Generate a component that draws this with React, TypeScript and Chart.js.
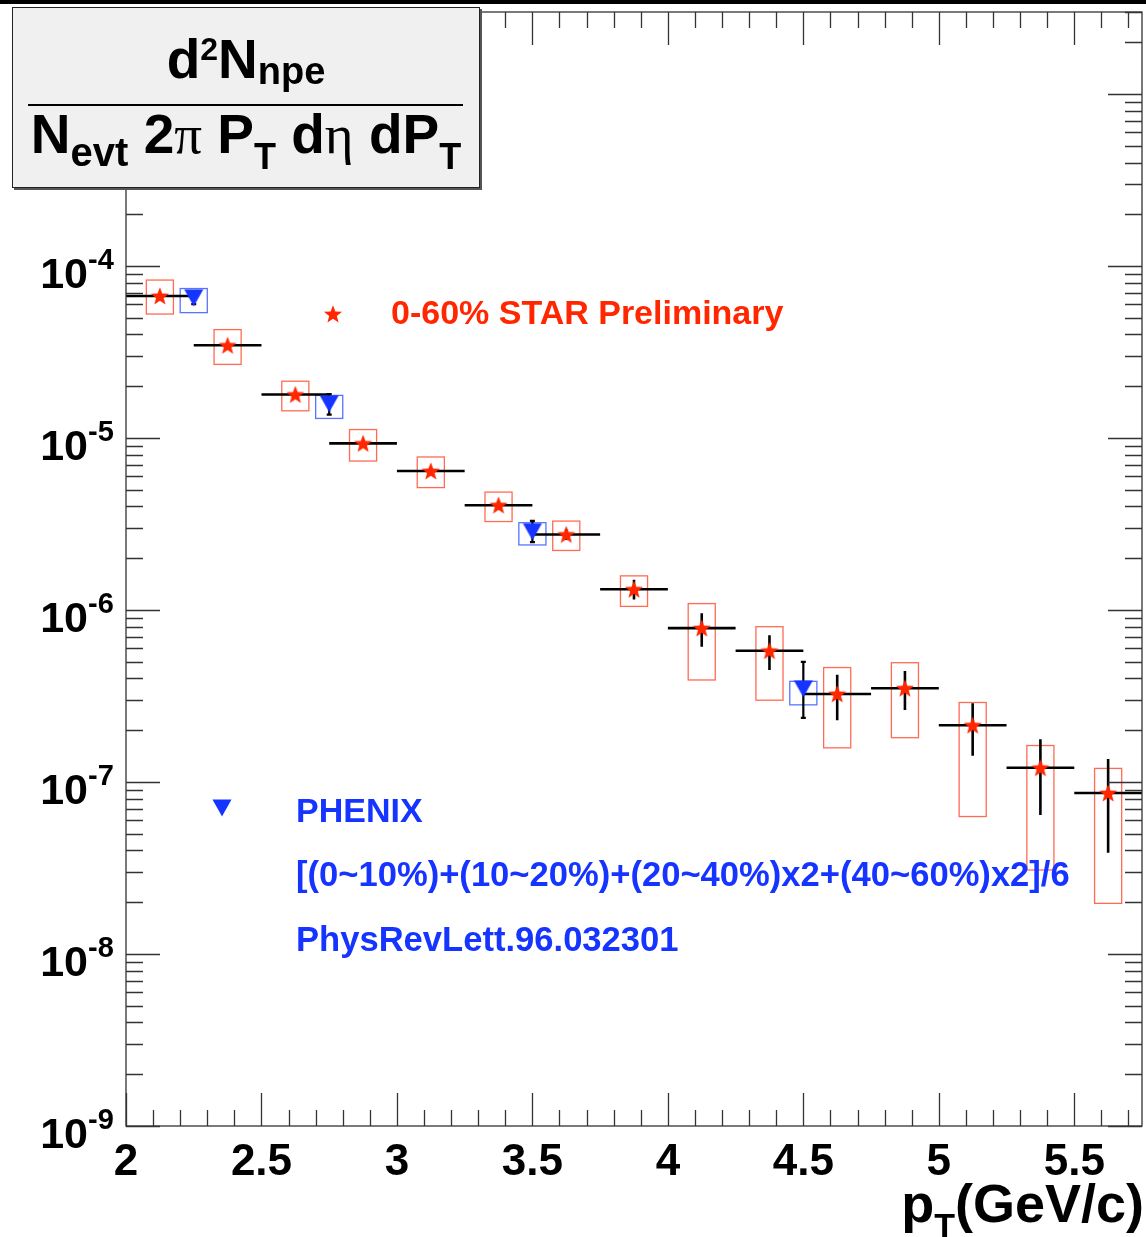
import { useEffect, useRef } from "react";
import { Chart, registerables } from "chart.js";

Chart.register(...registerables);

// ---- data ---------------------------------------------------------------
// STAR non-photonic electron spectrum, 0-60% centrality (bin centers, GeV/c)
const ptBinCenters = [2.125, 2.375, 2.625, 2.875, 3.125, 3.375, 3.625, 3.875, 4.125, 4.375, 4.625, 4.875, 5.125, 5.375, 5.625];
const ptBinHalfWidth = 0.125;
const starYield = [6.7e-5, 3.46e-5, 1.79e-5, 9.31e-6, 6.43e-6, 4.07e-6, 2.75e-6, 1.32e-6, 7.85e-7, 5.8e-7, 3.25e-7, 3.51e-7, 2.14e-7, 1.21e-7, 8.63e-8];
const starStatHigh = [6.9e-5, 3.57e-5, 1.85e-5, 9.7e-6, 6.75e-6, 4.3e-6, 2.95e-6, 1.5e-6, 9.57e-7, 7.13e-7, 4.21e-7, 4.42e-7, 2.87e-7, 1.77e-7, 1.36e-7];
const starStatLow = [6.5e-5, 3.35e-5, 1.73e-5, 8.9e-6, 6.1e-6, 3.85e-6, 2.55e-6, 1.15e-6, 6.12e-7, 4.48e-7, 2.29e-7, 2.62e-7, 1.42e-7, 6.43e-8, 3.88e-8];
const starSysHigh = [8.29e-5, 4.27e-5, 2.14e-5, 1.12e-5, 7.76e-6, 4.85e-6, 3.29e-6, 1.58e-6, 1.09e-6, 8.0e-7, 4.63e-7, 4.94e-7, 2.9e-7, 1.63e-7, 1.2e-7];
const starSysLow = [5.26e-5, 2.68e-5, 1.44e-5, 7.35e-6, 5.15e-6, 3.27e-6, 2.22e-6, 1.05e-6, 3.92e-7, 2.99e-7, 1.58e-7, 1.81e-7, 6.3e-8, 3.08e-8, 1.97e-8];

// PHENIX, centrality-weighted average
const phenixPt = [2.25, 2.75, 3.5, 4.5];
const phenixYield = [6.53e-5, 1.58e-5, 2.85e-6, 3.48e-7];
const phenixStatHigh = [7.1e-5, 1.8e-5, 3.3e-6, 4.99e-7];
const phenixStatLow = [6.0e-5, 1.37e-5, 2.48e-6, 2.36e-7];
const phenixSysHigh = [7.4e-5, 1.77e-5, 3.22e-6, 3.85e-7];
const phenixSysLow = [5.36e-5, 1.3e-5, 2.39e-6, 2.81e-7];

const sysHalfWidth = 0.05;

// axis ticks
const xTickLabels = ["2", "2.5", "3", "3.5", "4", "4.5", "5", "5.5"];
const yDecadeExponents = [-9, -8, -7, -6, -5, -4];
const xRange = [2, 5.75];
const yRange = [1e-9, 3e-3];

// ---- styling --------------------------------------------------------------
const FONT = "'Liberation Sans', Arial, Helvetica, sans-serif";
const SERIF = "'Liberation Serif', 'DejaVu Serif', serif";
const STAR_RED = "#ff2600";
const PHENIX_BLUE = "#1634ff";

type Part = { text: string; size: number; dy?: number; family?: string; weight?: string };

function drawRich(ctx: CanvasRenderingContext2D, parts: Part[], x: number, y: number, align: "left" | "center" | "right") {
  const widths = parts.map((p) => {
    ctx.font = `${p.weight ?? "bold"} ${p.size}px ${p.family ?? FONT}`;
    return ctx.measureText(p.text).width;
  });
  const total = widths.reduce((s, w) => s + w, 0);
  let cx = align === "center" ? x - total / 2 : align === "right" ? x - total : x;
  ctx.textAlign = "left";
  ctx.textBaseline = "alphabetic";
  parts.forEach((p, i) => {
    ctx.font = `${p.weight ?? "bold"} ${p.size}px ${p.family ?? FONT}`;
    ctx.fillText(p.text, cx, y + (p.dy ?? 0));
    cx += widths[i];
  });
}

function makeStar(color: string) {
  const c = document.createElement("canvas");
  c.width = 22;
  c.height = 22;
  const g = c.getContext("2d")!;
  g.fillStyle = color;
  g.beginPath();
  for (let k = 0; k < 10; k++) {
    const r = k % 2 === 0 ? 9.5 : 4;
    const a = -Math.PI / 2 + (k * Math.PI) / 5;
    const px = 11 + r * Math.cos(a);
    const py = 11.8 + r * Math.sin(a);
    if (k === 0) g.moveTo(px, py);
    else g.lineTo(px, py);
  }
  g.closePath();
  g.fill();
  return c;
}

function makeTriangle(color: string) {
  const c = document.createElement("canvas");
  c.width = 20;
  c.height = 18;
  const g = c.getContext("2d")!;
  g.fillStyle = color;
  g.beginPath();
  g.moveTo(0.5, 0.5);
  g.lineTo(19.5, 0.5);
  g.lineTo(10, 17.5);
  g.closePath();
  g.fill();
  return c;
}

export default function App() {
  const ref = useRef<HTMLCanvasElement>(null);

  useEffect(() => {
    document.body.style.margin = "0";
    const canvas = ref.current!;
    const starImg = makeStar(STAR_RED);
    const triImg = makeTriangle(PHENIX_BLUE);

    const decorations = {
      id: "decorations",
      beforeDatasetsDraw(chart: any) {
        const { ctx, chartArea: a } = chart;
        const xs = chart.scales.x;
        const ys = chart.scales.y;
        ctx.save();
        ctx.beginPath();
        ctx.rect(a.left, a.top, a.right - a.left, a.bottom - a.top);
        ctx.clip();

        // STAR systematic uncertainty boxes
        ctx.strokeStyle = "rgba(255,70,40,0.8)";
        ctx.lineWidth = 1.3;
        ptBinCenters.forEach((pt, i) => {
          const x0 = xs.getPixelForValue(pt - sysHalfWidth);
          const x1 = xs.getPixelForValue(pt + sysHalfWidth);
          const y0 = ys.getPixelForValue(starSysHigh[i]);
          const y1 = ys.getPixelForValue(starSysLow[i]);
          ctx.strokeRect(x0, y0, x1 - x0, y1 - y0);
        });

        // PHENIX systematic uncertainty boxes
        ctx.strokeStyle = "rgba(30,70,255,0.75)";
        phenixPt.forEach((pt, i) => {
          const x0 = xs.getPixelForValue(pt - sysHalfWidth);
          const x1 = xs.getPixelForValue(pt + sysHalfWidth);
          const y0 = ys.getPixelForValue(phenixSysHigh[i]);
          const y1 = ys.getPixelForValue(phenixSysLow[i]);
          ctx.strokeRect(x0, y0, x1 - x0, y1 - y0);
        });

        // STAR bin widths and statistical errors
        ctx.strokeStyle = "#000";
        ctx.lineWidth = 2.6;
        ptBinCenters.forEach((pt, i) => {
          const px = xs.getPixelForValue(pt);
          const py = ys.getPixelForValue(starYield[i]);
          ctx.beginPath();
          ctx.moveTo(xs.getPixelForValue(pt - ptBinHalfWidth), py);
          ctx.lineTo(xs.getPixelForValue(pt + ptBinHalfWidth), py);
          ctx.moveTo(px, ys.getPixelForValue(starStatHigh[i]));
          ctx.lineTo(px, ys.getPixelForValue(starStatLow[i]));
          ctx.stroke();
        });

        // PHENIX statistical errors with end caps
        ctx.lineWidth = 2.2;
        phenixPt.forEach((pt, i) => {
          const px = xs.getPixelForValue(pt);
          const yh = ys.getPixelForValue(phenixStatHigh[i]);
          const yl = ys.getPixelForValue(phenixStatLow[i]);
          ctx.beginPath();
          ctx.moveTo(px, yh);
          ctx.lineTo(px, yl);
          ctx.moveTo(px - 2.5, yh);
          ctx.lineTo(px + 2.5, yh);
          ctx.moveTo(px - 2.5, yl);
          ctx.lineTo(px + 2.5, yl);
          ctx.stroke();
        });
        ctx.restore();
      },
      afterDraw(chart: any) {
        const { ctx, chartArea: a } = chart;
        const xs = chart.scales.x;
        const ys = chart.scales.y;
        ctx.save();

        // frame
        ctx.strokeStyle = "#333";
        ctx.lineWidth = 1.3;
        ctx.strokeRect(a.left, a.top, a.right - a.left, a.bottom - a.top);

        // y ticks (log), both sides
        ctx.beginPath();
        for (let e = -10; e <= -2; e++) {
          for (let k = 1; k <= 9; k++) {
            const v = k * Math.pow(10, e);
            if (v < yRange[0] * 0.999 || v > yRange[1] * 1.001) continue;
            const py = Math.round(ys.getPixelForValue(v)) + 0.5;
            const len = k === 1 ? 34 : 17;
            ctx.moveTo(a.left, py);
            ctx.lineTo(a.left + len, py);
            ctx.moveTo(a.right, py);
            ctx.lineTo(a.right - len, py);
          }
        }
        // x ticks, both sides
        for (let t = 20; t <= 57; t++) {
          const v = t / 10;
          const px = Math.round(xs.getPixelForValue(v)) + 0.5;
          const len = t % 5 === 0 ? 33 : 16;
          ctx.moveTo(px, a.bottom);
          ctx.lineTo(px, a.bottom - len);
          ctx.moveTo(px, a.top);
          ctx.lineTo(px, a.top + len);
        }
        ctx.stroke();

        // tick labels
        ctx.fillStyle = "#000";
        xTickLabels.forEach((lab) => {
          const px = xs.getPixelForValue(parseFloat(lab));
          drawRich(ctx, [{ text: lab, size: 44 }], px, 1175, "center");
        });
        yDecadeExponents.forEach((e) => {
          const py = ys.getPixelForValue(Math.pow(10, e));
          drawRich(ctx, [{ text: "10", size: 43 }], 88, py + 22, "right");
          drawRich(ctx, [{ text: String(e), size: 29 }], 88, py + 3, "left");
        });

        // axis title
        drawRich(
          ctx,
          [
            { text: "p", size: 54 },
            { text: "T", size: 34, dy: 15 },
            { text: "(GeV/c)", size: 54 },
          ],
          1144,
          1222,
          "right"
        );

        // legends
        ctx.drawImage(starImg, 333 - 11, 314 - 11);
        ctx.fillStyle = STAR_RED;
        drawRich(ctx, [{ text: "0-60% STAR Preliminary", size: 34 }], 391, 324, "left");
        ctx.drawImage(triImg, 222 - 10, 808 - 9);
        ctx.fillStyle = PHENIX_BLUE;
        drawRich(ctx, [{ text: "PHENIX", size: 34 }], 296, 822, "left");
        drawRich(ctx, [{ text: "[(0~10%)+(10~20%)+(20~40%)x2+(40~60%)x2]/6", size: 34.6 }], 296, 886, "left");
        drawRich(ctx, [{ text: "PhysRevLett.96.032301", size: 34.6 }], 296, 951, "left");

        // title pave with shadow
        ctx.fillStyle = "#555";
        ctx.fillRect(14, 9, 468, 181);
        ctx.fillStyle = "#f0f0f0";
        ctx.fillRect(12, 7, 468, 181);
        ctx.strokeStyle = "#222";
        ctx.lineWidth = 1;
        ctx.strokeRect(12.5, 7.5, 467, 180);
        ctx.fillStyle = "#000";
        drawRich(
          ctx,
          [
            { text: "d", size: 55 },
            { text: "2", size: 32, dy: -18 },
            { text: "N", size: 55 },
            { text: "npe", size: 38, dy: 6 },
          ],
          246,
          78,
          "center"
        );
        ctx.fillRect(28, 104, 435, 2);
        drawRich(
          ctx,
          [
            { text: "N", size: 55 },
            { text: "evt", size: 40, dy: 13 },
            { text: " 2", size: 55 },
            { text: "π", size: 55, family: SERIF, weight: "normal" },
            { text: " P", size: 55 },
            { text: "T", size: 36, dy: 16 },
            { text: " d", size: 55 },
            { text: "η", size: 55, family: SERIF, weight: "normal" },
            { text: " dP", size: 55 },
            { text: "T", size: 36, dy: 16 },
          ],
          246,
          153,
          "center"
        );

        // top border bar
        ctx.fillStyle = "#000";
        ctx.fillRect(0, 0, 1146, 4);
        ctx.restore();
      },
    };

    const chart = new Chart(canvas, {
      type: "scatter",
      data: {
        datasets: [
          {
            label: "0-60% STAR Preliminary",
            data: ptBinCenters.map((x, i) => ({ x, y: starYield[i] })),
            pointStyle: starImg as any,
            pointRadius: 10,
            pointHoverRadius: 10,
          },
          {
            label: "PHENIX",
            data: phenixPt.map((x, i) => ({ x, y: phenixYield[i] })),
            pointStyle: triImg as any,
            pointRadius: 10,
            pointHoverRadius: 10,
          },
        ],
      },
      options: {
        animation: false,
        responsive: false,
        events: [],
        layout: { padding: { top: 12, right: 4, left: 0, bottom: 0 }, autoPadding: false },
        plugins: { legend: { display: false }, tooltip: { enabled: false } },
        scales: {
          x: {
            type: "linear",
            min: xRange[0],
            max: xRange[1],
            grid: { display: false, drawTicks: false },
            border: { display: false },
            ticks: { display: false },
            afterFit: (s: any) => {
              s.height = 111;
            },
          },
          y: {
            type: "logarithmic",
            min: yRange[0],
            max: yRange[1],
            grid: { display: false, drawTicks: false },
            border: { display: false },
            ticks: { display: false },
            afterFit: (s: any) => {
              s.width = 126;
            },
          },
        },
      },
      plugins: [decorations],
    });
    return () => chart.destroy();
  }, []);

  return (
    <div style={{ width: 1146, height: 1237, background: "#fff" }}>
      <canvas ref={ref} width={1146} height={1237} style={{ display: "block" }} />
    </div>
  );
}
